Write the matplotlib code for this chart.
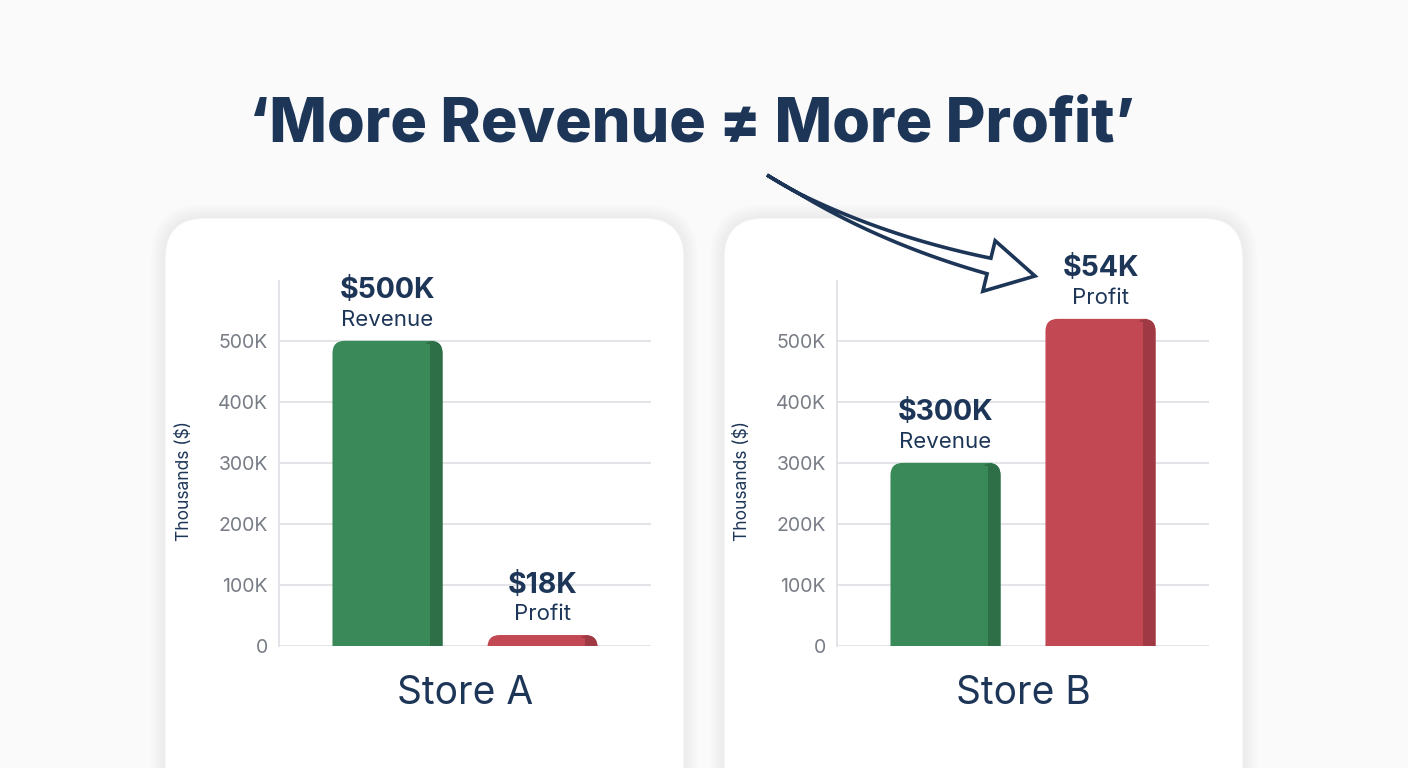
import matplotlib
matplotlib.use("Agg")
import numpy as np
import matplotlib.pyplot as plt
from matplotlib.patches import FancyBboxPatch, Polygon
from matplotlib.transforms import IdentityTransform

plt.rcParams['font.family'] = ['Inter', 'DejaVu Sans']

stores = ['Store A', 'Store B']
revenue = [500, 300]          # $K
profit = [18, 54]             # $K
profit_drawn = [18, 536]      # height the profit bar is drawn at
yticks = [0, 100, 200, 300, 400, 500]
ytick_labels = ['0', '100K', '200K', '300K', '400K', '500K']

navy = '#1d3658'
green, green_side = '#3a8a59', '#2f6f48'
red, red_side = '#c24954', '#9f3a45'

W, H = 1408, 768
fig = plt.figure(figsize=(14.08, 7.68), dpi=100)
fig.patch.set_facecolor('#fafafa')

# white cards with a soft shadow
for x0 in [165, 724]:
    for k in range(14, 0, -2):
        fig.add_artist(FancyBboxPatch((x0 - k, -60 - k), 519 + 2 * k, 610 + 2 * k,
                                      boxstyle="round,pad=0,rounding_size=%d" % (40 + k),
                                      transform=IdentityTransform(), fc='#000000',
                                      ec='none', alpha=0.006, zorder=0))
    fig.add_artist(FancyBboxPatch((x0, -60), 519, 610,
                                  boxstyle="round,pad=0,rounding_size=40",
                                  transform=IdentityTransform(), fc='white',
                                  ec='#f0f0f1', lw=0.8, zorder=1))

fig.text(0.4915, 0.837, '\u2018More Revenue \u2260 More Profit\u2019', ha='center', va='center',
         fontsize=44, fontweight='heavy', color=navy)

def draw_bar(ax, x, h, color, side):
    w = 0.71
    aspect = 254
    r = 0.08
    ax.add_patch(FancyBboxPatch((x - w / 2, -30), w, h + 30,
                                boxstyle="round,pad=0,rounding_size=%s" % r,
                                mutation_aspect=aspect, fc=color, ec='none', zorder=3))
    sw = 0.08
    ax.add_patch(FancyBboxPatch((x + w / 2 - sw - 0.05, -30), sw + 0.05, h + 30,
                                boxstyle="round,pad=0,rounding_size=%s" % r,
                                mutation_aspect=aspect, fc=side, ec='none', zorder=3))
    ax.add_patch(FancyBboxPatch((x + w / 2 - sw - 0.07, -30), 0.07, h + 30 - 5,
                                boxstyle="square,pad=0", fc=color, ec='none', zorder=3))

lefts = [279 / W, 837 / W]
for i, store in enumerate(stores):
    ax = fig.add_axes([lefts[i], 1 - 646 / H, 372 / W, 365 / H])
    ax.set_zorder(2)
    ax.set_facecolor('none')
    ax.set_xlim(-0.7, 1.7)
    ax.set_ylim(0, 598)
    for t in yticks:
        ax.axhline(t, color='#e2e4e8', lw=1.4, zorder=1)
    for s in ['top', 'right', 'bottom']:
        ax.spines[s].set_visible(False)
    ax.spines['left'].set_color('#e2e4e8')
    ax.spines['left'].set_linewidth(1.4)
    ax.set_xticks([])
    ax.set_yticks(yticks)
    ax.set_yticklabels(ytick_labels)
    ax.tick_params(axis='y', length=0, pad=8, labelsize=14, labelcolor='#777c85')
    ax.set_ylabel('Thousands ($)', fontsize=12.5, color=navy)
    ax.yaxis.set_label_coords(-0.231, 0.452)

    draw_bar(ax, 0, revenue[i], green, green_side)
    draw_bar(ax, 1, profit_drawn[i], red, red_side)

    for x, h, val, name in [(0, revenue[i], revenue[i], 'Revenue'),
                            (1, profit_drawn[i], profit[i], 'Profit')]:
        ax.annotate('$%dK' % val, (x, h), xytext=(0, 36), textcoords='offset points',
                    ha='center', va='center', fontsize=20.5, fontweight='bold', color=navy,
                    annotation_clip=False)
        ax.annotate(name, (x, h), xytext=(0, 15), textcoords='offset points',
                    ha='center', va='center', fontsize=16, color=navy,
                    annotation_clip=False)

    ax.text(0.5, -0.129, store, transform=ax.transAxes, ha='center', va='center',
            fontsize=28, color=navy)

# hollow, tapered arrow from the title to Store B's profit bar (pixel coords)
T = np.array([767.0, 175.0])
C = np.array([866.0, 236.0])
B = np.array([989.0, 266.0])
tip = np.array([1035.0, 276.0])
t = np.linspace(0, 1, 60)[:, None]
pts = (1 - t) ** 2 * T + 2 * (1 - t) * t * C + t ** 2 * B
d = 2 * (1 - t) * (C - T) + 2 * t * (B - C)
d = d / np.linalg.norm(d, axis=1, keepdims=True)
n = np.column_stack([-d[:, 1], d[:, 0]])
half = 8.0 * np.clip((t[:, 0] - 0.15) / 0.85, 0, 1)[:, None]
upper = pts - n * half
lower = pts + n * half
nb = n[-1]
head = [B - nb * 26, tip, B + nb * 26]
poly = np.vstack([upper, head, lower[::-1]])
poly[:, 1] = H - poly[:, 1]
fig.add_artist(Polygon(poly, closed=True, fc='white', ec=navy, lw=2.6,
                       joinstyle='miter', transform=IdentityTransform(), zorder=5))

fig.savefig('out.png', dpi=100, facecolor=fig.get_facecolor())
